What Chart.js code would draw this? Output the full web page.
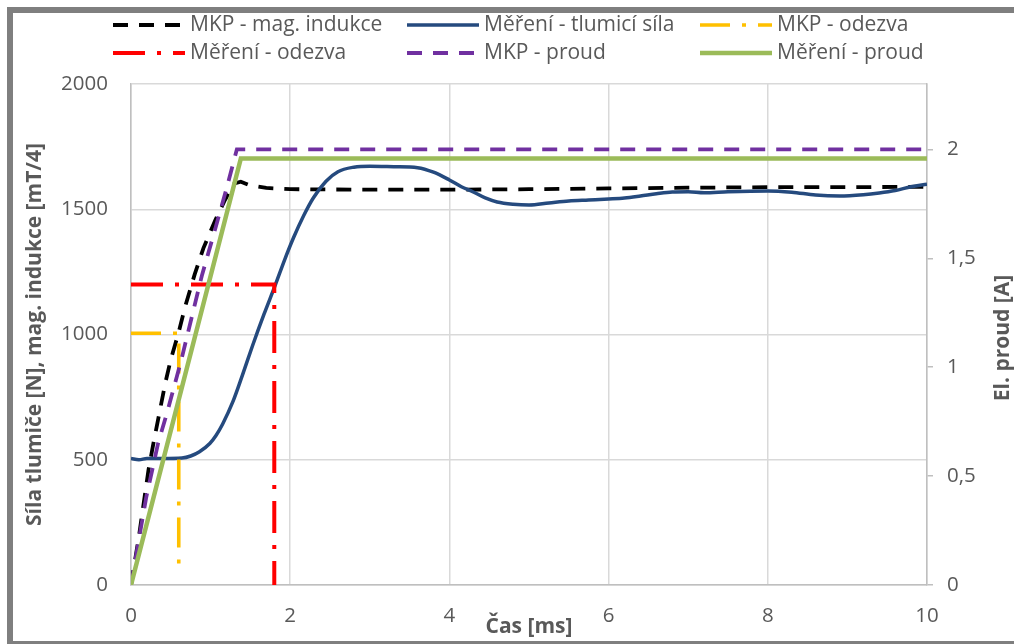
<!DOCTYPE html>
<html lang="cs">
<head>
<meta charset="UTF-8">
<title>Tlumič - odezva</title>
<script src="https://cdn.jsdelivr.net/npm/chart.js"></script>
<style>
    body { margin: 0; background: #fff; overflow: hidden; }
    .wrap { position: relative; width: 1014px; height: 644px; }
    .frame {
        position: absolute; left: 7px; top: 7px; width: 1100px; height: 640px;
        border: 6px solid #7f7f7f; box-sizing: border-box; pointer-events: none;
    }
</style>
</head>
<body>
<div class="wrap">
    <canvas id="chart"></canvas>
    <div class="frame"></div>
</div>

<script>
// tick labels
const timeTicks = [0, 2, 4, 6, 8, 10];
const forceTicks = [0, 500, 1000, 1500, 2000];
const currentTicks = [0, 0.5, 1, 1.5, 2];

// MKP - mag. indukce [mT/4]
const inductionTime = [0, 0.1, 0.22, 0.29, 0.36, 0.43, 0.5, 0.6, 0.68, 0.8, 0.91, 1.06, 1.18, 1.3, 1.38, 1.5, 1.7, 2, 3, 4, 5, 6, 7, 8, 9, 10];
const inductionValues = [0, 195, 460, 580, 692, 805, 900, 1010, 1111, 1240, 1345, 1457, 1537, 1603, 1610, 1595, 1585, 1580, 1578, 1578, 1580, 1583, 1586, 1588, 1588, 1590];

// Měření - tlumicí síla [N]
const forceTime = [0, 0.1, 0.2, 0.4, 0.64, 0.75, 0.86, 0.99, 1.07, 1.15, 1.28, 1.4, 1.53, 1.67, 1.81, 1.93, 2.04, 2.17, 2.29, 2.45, 2.6, 2.8, 3.0, 3.3, 3.6, 3.8, 4.0, 4.15, 4.3, 4.45, 4.6, 4.8, 5.0, 5.25, 5.5, 5.75, 6.0, 6.2, 6.4, 6.6, 6.8, 7.0, 7.2, 7.5, 8.0, 8.3, 8.6, 8.9, 9.2, 9.4, 9.6, 9.8, 10];
const forceValues = [505, 500, 505, 505, 507, 515, 532, 565, 598, 642, 732, 838, 958, 1080, 1195, 1298, 1385, 1475, 1545, 1612, 1650, 1668, 1672, 1670, 1666, 1648, 1617, 1590, 1569, 1545, 1529, 1520, 1517, 1525, 1533, 1537, 1541, 1545, 1553, 1562, 1569, 1570, 1566, 1570, 1573, 1568, 1557, 1553, 1558, 1565, 1575, 1590, 1600];

// MKP - odezva
const mkpResponseTime = [0, 0.6, 0.6];
const mkpResponseValues = [1005, 1005, 60];

// Měření - odezva
const measResponseTime = [0, 1.8, 1.8];
const measResponseValues = [1200, 1200, 0];

// MKP - proud [A]
const mkpCurrentTime = [0, 0.19, 0.34, 0.46, 0.63, 0.89, 1.07, 1.2, 1.33, 10];
const mkpCurrentValues = [0, 0.40, 0.65, 0.80, 1.03, 1.42, 1.65, 1.82, 2.0, 2.0];

// Měření - proud [A]
const measCurrentTime = [0, 1.38, 10];
const measCurrentValues = [0, 1.958, 1.958];

const seriesLabels = ['MKP - mag. indukce', 'Měření - tlumicí síla', 'MKP - odezva',
                      'Měření - odezva', 'MKP - proud', 'Měření - proud'];

const FONT = "'Open Sans', sans-serif";
const TEXT = '#595959';

function pts(xs, ys) {
    return xs.map((x, i) => ({ x: x, y: ys[i] }));
}

// legend drawn in a fixed 3-column grid like the original
const legendPlugin = {
    id: 'gridLegend',
    afterDraw(chart) {
        const ctx = chart.ctx;
        const cols = [113, 407, 700];
        const rows = [25, 53];
        chart.data.datasets.forEach((ds, i) => {
            const x = cols[i % 3];
            const y = rows[Math.floor(i / 3)];
            ctx.save();
            ctx.strokeStyle = ds.borderColor;
            ctx.lineWidth = ds.borderWidth;
            ctx.setLineDash(ds.borderDash || []);
            ctx.beginPath();
            ctx.moveTo(x, y);
            ctx.lineTo(x + 72, y);
            ctx.stroke();
            ctx.setLineDash([]);
            ctx.fillStyle = TEXT;
            ctx.font = '21px ' + FONT;
            ctx.textBaseline = 'middle';
            ctx.fillText(ds.label, x + 77, y);
            ctx.restore();
        });

        // secondary axis title reads bottom-to-top
        ctx.save();
        ctx.translate(1003, 338);
        ctx.rotate(-Math.PI / 2);
        ctx.fillStyle = TEXT;
        ctx.font = 'bold 21px ' + FONT;
        ctx.textAlign = 'center';
        ctx.textBaseline = 'middle';
        ctx.fillText('El. proud [A]', 0, 0);
        ctx.restore();
    }
};

const tickFont = { family: FONT, size: 20.5 };

new Chart(document.getElementById('chart'), {
    type: 'line',
    data: {
        datasets: [
            {
                label: seriesLabels[0], data: pts(inductionTime, inductionValues), yAxisID: 'y',
                borderColor: '#000000', borderWidth: 3.8, borderDash: [15, 11], order: 5
            },
            {
                label: seriesLabels[1], data: pts(forceTime, forceValues), yAxisID: 'y',
                borderColor: '#254a7e', borderWidth: 3.5, cubicInterpolationMode: 'monotone', order: 4
            },
            {
                label: seriesLabels[2], data: pts(mkpResponseTime, mkpResponseValues), yAxisID: 'y',
                borderColor: '#ffc000', borderWidth: 3.6, borderDash: [30, 12, 4, 12], order: 3
            },
            {
                label: seriesLabels[3], data: pts(measResponseTime, measResponseValues), yAxisID: 'y',
                borderColor: '#ff0000', borderWidth: 4, borderDash: [32, 12, 4, 12], order: 2
            },
            {
                label: seriesLabels[4], data: pts(mkpCurrentTime, mkpCurrentValues), yAxisID: 'y1',
                borderColor: '#7030a0', borderWidth: 3.8, borderDash: [15, 11], order: 1
            },
            {
                label: seriesLabels[5], data: pts(measCurrentTime, measCurrentValues), yAxisID: 'y1',
                borderColor: '#9bbb59', borderWidth: 4.5, order: 0
            }
        ]
    },
    options: {
        responsive: true,
        maintainAspectRatio: false,
        animation: false,
        layout: { padding: { top: 84, left: 0, right: 0, bottom: 0 } },
        elements: { point: { radius: 0 }, line: { tension: 0, borderCapStyle: 'butt' } },
        plugins: { legend: { display: false }, tooltip: { enabled: false } },
        scales: {
            x: {
                type: 'linear', min: 0, max: 10,
                afterBuildTicks: s => { s.ticks = timeTicks.map(v => ({ value: v })); },
                ticks: { color: TEXT, font: tickFont, padding: 19, maxRotation: 0, callback: v => String(v) },
                grid: { color: '#d9d9d9', lineWidth: 1.5, drawTicks: false },
                border: { color: '#bfbfbf', width: 1.5 },
                title: {
                    display: true, text: 'Čas [ms]', color: TEXT,
                    font: { family: FONT, size: 21, weight: 'bold', lineHeight: 1 },
                    padding: { top: 0, bottom: 6 }
                },
                afterFit: s => { s.height = 59; }
            },
            y: {
                position: 'left', min: 0, max: 2000,
                afterBuildTicks: s => { s.ticks = forceTicks.map(v => ({ value: v })); },
                ticks: { color: TEXT, font: tickFont, padding: 23, callback: v => String(v) },
                grid: { color: '#d9d9d9', lineWidth: 1.5, drawTicks: false },
                border: { color: '#bfbfbf', width: 1.5 },
                title: {
                    display: true, text: 'Síla tlumiče [N], mag. indukce [mT/4]', color: TEXT,
                    font: { family: FONT, size: 21, weight: 'bold', lineHeight: 1 },
                    padding: { top: 25, bottom: 0 }
                },
                afterFit: s => { s.width = 131; }
            },
            y1: {
                position: 'right', min: 0, max: 2.3,
                afterBuildTicks: s => { s.ticks = currentTicks.map(v => ({ value: v })); },
                ticks: {
                    color: TEXT, font: tickFont, padding: 14,
                    callback: v => String(v).replace('.', ',')
                },
                grid: { drawOnChartArea: false, drawTicks: true, tickLength: 6, color: '#bfbfbf', lineWidth: 1.5 },
                border: { color: '#bfbfbf', width: 1.5 },
                afterFit: s => { s.width = 87; }
            }
        }
    },
    plugins: [legendPlugin]
});
</script>
</body>
</html>
